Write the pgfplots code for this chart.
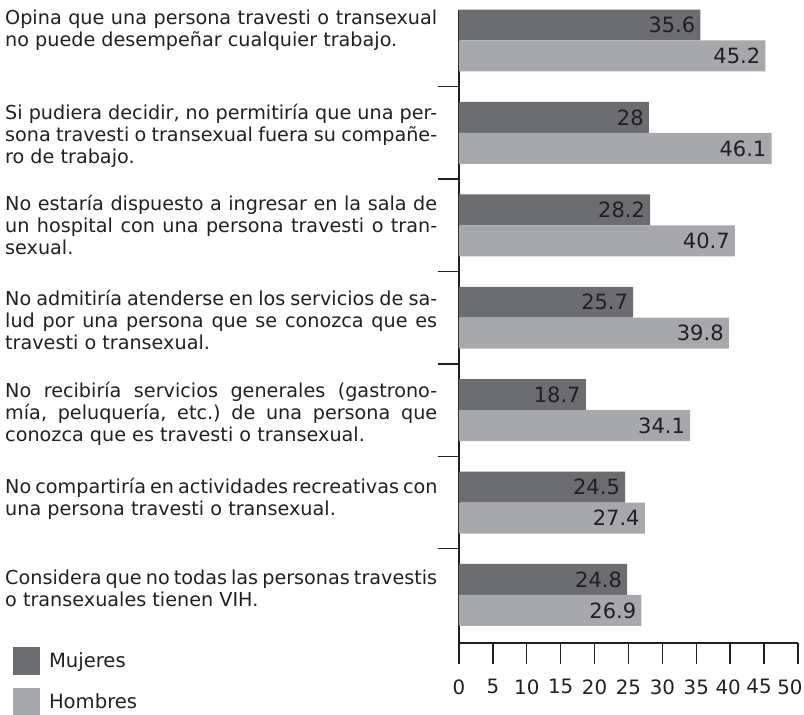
\documentclass[border=0pt]{standalone}
\usepackage{fontspec}
\setmainfont{DejaVu Sans}
\usepackage{pgfplots}
\pgfplotsset{compat=1.18}
\frenchspacing
\definecolor{dark}{HTML}{6C6D71}
\definecolor{light}{HTML}{A7A8AC}
\definecolor{ink}{HTML}{231F20}
\newcommand\lbl{\fontsize{19.2}{22}\selectfont}
\newcommand\leg{\fontsize{19.6}{22}\selectfont}
\newcommand\num{\fontsize{21}{24}\selectfont}
\newcommand\tnum{\fontsize{19.8}{24}\selectfont}
\newcommand\jl[1]{\makebox[432pt][s]{#1}}
\begin{document}
\begin{tikzpicture}
\useasboundingbox (-459pt,-72pt) rectangle (345pt,643pt);
\begin{axis}[
  at={(0pt,0pt)}, anchor=south west,
  scale only axis, width=339pt, height=633pt,
  xbar, bar width=0.335,
  xmin=0, xmax=50, ymin=-0.33, ymax=6.52, y dir=reverse,
  axis lines*=left,
  axis line style={ink, line width=1.4pt},
  xtick={0,5,...,50},
  xticklabels={0,5,10,15,20,25,30,35,40\kern4pt,45\kern10pt,50\kern16pt},
  ytick={0.5,1.5,2.5,3.5,4.5,5.5}, yticklabels={},
  tick align=outside, major tick length=21pt,
  tick style={ink, line width=1.4pt},
  /pgf/number format/assume math mode=true,
  xticklabel style={font=\tnum, text=ink, yshift=-12pt},
  point meta=x,
  nodes near coords,
  every node near coord/.append style={anchor=east, xshift=-5pt, font=\num, text=ink, inner sep=0pt},
  legend style={at={(-1.3156,-0.0063)}, anchor=north west, draw=none, fill=none,
    inner sep=0pt, outer sep=0pt, row sep=13pt, font=\leg, text=ink,
    nodes={inner sep=0pt}},
  legend image code/.code={\fill[#1] (0pt,-14pt) rectangle (27pt,14pt);},
  legend cell align=left,
  clip=false,
]
\addplot[fill=dark, draw=none, bar shift=-0.1675] coordinates {(35.6,0) (28,1) (28.2,2) (25.7,3) (18.7,4) (24.5,5) (24.8,6)};
\addplot[fill=light, draw=none, bar shift=0.1675] coordinates {(45.2,0) (46.1,1) (40.7,2) (39.8,3) (34.1,4) (27.4,5) (26.9,6)};
\legend{\hspace{9pt}Mujeres, \hspace{9pt}Hombres}
\end{axis}
\begin{scope}[every node/.style={anchor=north west, inner sep=0pt, align=left, font=\lbl, text=ink}]
\node at (-454pt,633pt) {\jl{Opina que una persona travesti o transexual}\\no puede desempeñar cualquier trabajo.};
\node at (-454pt,539pt) {\jl{Si pudiera decidir, no permitiría que una per-}\\\jl{sona travesti o transexual fuera su compañe-}\\ro de trabajo.};
\node at (-454pt,448pt) {\jl{No estaría dispuesto a ingresar en la sala de}\\\jl{un hospital con una persona travesti o tran-}\\sexual.};
\node at (-454pt,353pt) {\jl{No admitiría atenderse en los servicios de sa-}\\\jl{lud por una persona que se conozca que es}\\travesti o transexual.};
\node at (-454pt,261pt) {\jl{No recibiría servicios generales (gastrono-}\\\jl{mía, peluquería, etc.) de una persona que}\\conozca que es travesti o transexual.};
\node at (-454pt,165pt) {\jl{No compartiría en actividades recreativas con}\\una persona travesti o transexual.};
\node at (-454pt,73pt) {\jl{Considera que no todas las personas travestis}\\o transexuales tienen VIH.};
\end{scope}
\end{tikzpicture}
\end{document}
